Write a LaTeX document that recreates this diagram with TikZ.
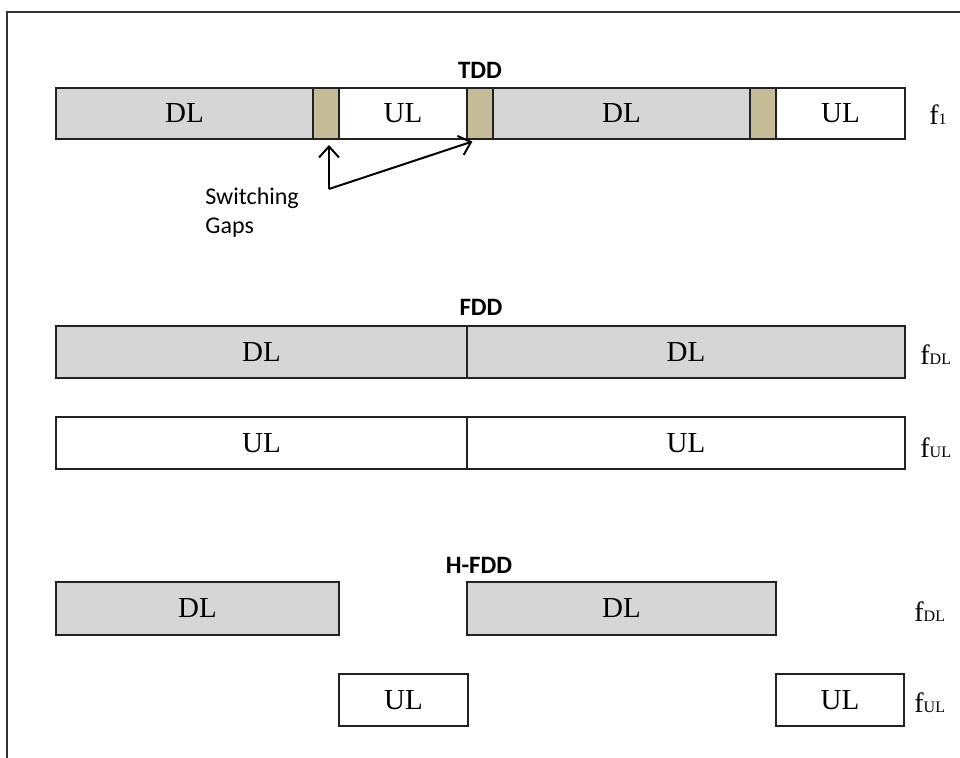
\documentclass[tikz,border=0pt]{standalone}
\usepackage{fontspec}
\setmainfont{Liberation Serif}
\newfontfamily\calibri{Carlito}
\usetikzlibrary{arrows.meta, positioning}
\definecolor{dupGrey}{HTML}{D6D6D6}
\definecolor{dupTan}{HTML}{C4BD97}
\definecolor{dupEdge}{HTML}{222222}
\newcommand{\freqsub}[1]{{\fontsize{8}{9}\selectfont #1}}

\begin{document}
\begin{tikzpicture}[
    x=0.5pt, y=0.5pt,
    >={Straight Barb[length=5.5pt, width=10pt]},
    % --- node styles ---
    seg/.style={
        draw=dupEdge, line width=1pt, outer sep=0pt, inner sep=0pt,
        minimum height=25.5pt, font=\fontsize{14.5}{16}\selectfont,
    },
    dlseg/.style={seg, fill=dupGrey},
    ulseg/.style={seg, fill=white},
    gapseg/.style={seg, fill=dupTan, minimum width=13pt},
    % --- annotation styles ---
    ttl/.style={font=\calibri\bfseries\fontsize{12.5}{15}\selectfont, inner sep=0pt},
    freq/.style={font=\fontsize{14}{16}\selectfont, anchor=west, inner sep=0pt},
    note/.style={font=\calibri\fontsize{12}{14.5}\selectfont, align=left, inner sep=0pt},
    arr/.style={->, line width=1pt, color=black},
]

\useasboundingbox (0,0) rectangle (960,-758);

% -- frame --
\draw[line width=0.6pt, black!80] (7,-758) |- (960,-12);

% ===== TDD ===================================================================

\node[ttl] (tddttl) at (480,-70) {TDD};

\node[dlseg, minimum width=128.5pt, anchor=west] (tdl1) at (56,-113.5) {DL};
\node[gapseg, right=0pt of tdl1] (gap1) {};
\node[ulseg, minimum width=64pt, right=0pt of gap1] (tul1) {UL};
\node[gapseg, right=0pt of tul1] (gap2) {};
\node[dlseg, minimum width=128.5pt, right=0pt of gap2] (tdl2) {DL};
\node[gapseg, right=0pt of tdl2] (gap3) {};
\node[ulseg, minimum width=64.5pt, right=0pt of gap3] (tul2) {UL};

\node[freq] (fone) at (929,-115) {f\freqsub{1}};

% -- switching gaps --
\coordinate (swfoot) at (329,-189);
\node[note, anchor=north west] (swlbl) at (205,-187) {Switching\\Gaps};

\draw[arr, shorten >=3pt] (swfoot) -- (swfoot |- gap1.south);
\draw[arr, shorten >=4pt] (swfoot) -- (gap2.south);


% ===== FDD ===================================================================

\node[ttl] (fddttl) at (481,-307) {FDD};

\node[dlseg, minimum width=205.5pt, minimum height=26pt, anchor=west] (fdl1) at (56,-352) {DL};
\node[dlseg, minimum width=219pt, minimum height=26pt, right=0pt of fdl1] (fdl2) {DL};
\node[ulseg, minimum width=205.5pt, minimum height=26pt, anchor=west] (ful1) at (56,-443.5) {UL};
\node[ulseg, minimum width=219pt, minimum height=26pt, right=0pt of ful1] (ful2) {UL};

\node[freq] (fdl) at (920,-355) {f\freqsub{DL}};
\node[freq] (ful) at (920,-448) {f\freqsub{UL}};


% ===== H-FDD =================================================================

\node[ttl] (hfddttl) at (479,-565) {H-FDD};

\node[dlseg, minimum width=141.5pt, minimum height=26.5pt, anchor=west] (hdl1) at (56,-608.5) {DL};
\node[dlseg, minimum width=154.5pt, minimum height=26.5pt, anchor=west] (hdl2) at (467,-608.5) {DL};
\node[ulseg, minimum width=64.5pt, minimum height=26pt, anchor=west] (hul1) at (339,-700) {UL};
\node[ulseg, minimum width=64pt, minimum height=26pt, anchor=west] (hul2) at (776,-700) {UL};

\node[freq] (hfdl) at (914,-612) {f\freqsub{DL}};
\node[freq] (hful) at (914,-703) {f\freqsub{UL}};

\end{tikzpicture}
\end{document}
